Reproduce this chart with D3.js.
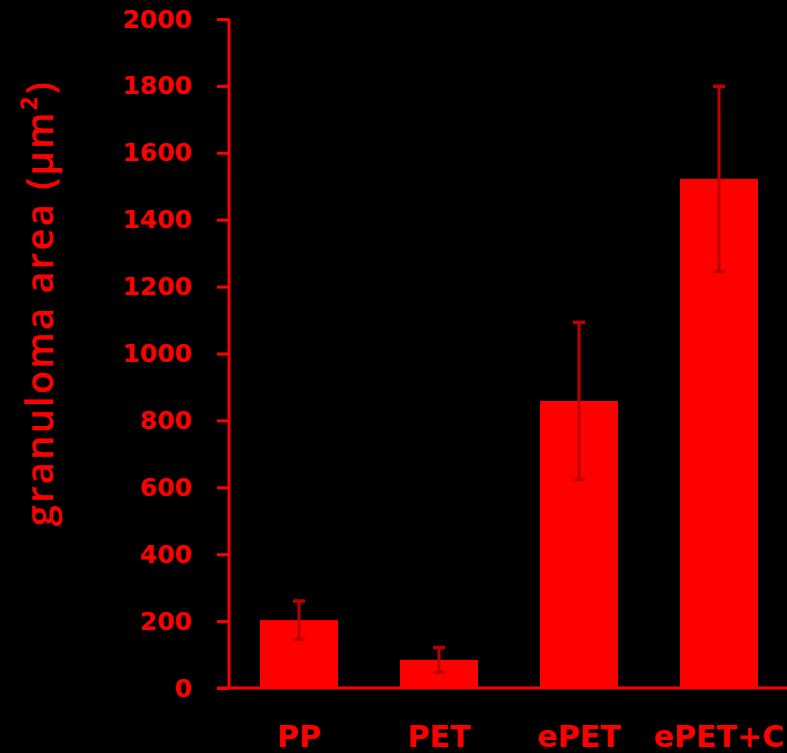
<!DOCTYPE html>
<html>
<head>
<meta charset="utf-8">
<script src="https://d3js.org/d3.v7.min.js"></script>
<style>
  html, body { margin: 0; padding: 0; background: #000; }
  svg { display: block; }
</style>
</head>
<body>
<svg width="787" height="753"></svg>
<script>
// values
const categories = ["PP", "PET", "ePET", "ePET+C"];
const means = [203, 84, 858, 1522];
const errors = [57, 37, 235, 277];
const yTicks = [0, 200, 400, 600, 800, 1000, 1200, 1400, 1600, 1800, 2000];

const red = "#ff0000";
const errRed = "#c00000";
const svg = d3.select("svg");

const x = d3.scaleBand().domain(categories).range([229, 789]).paddingInner(0.443).paddingOuter(0.2215);
const y = d3.scaleLinear().domain([0, 2000]).range([688, 19]);

// bars
svg.append("g").selectAll("rect").data(categories).enter().append("rect")
  .attr("x", d => x(d))
  .attr("y", (d, i) => y(means[i]))
  .attr("width", x.bandwidth())
  .attr("height", (d, i) => y(0) - y(means[i]))
  .attr("fill", red);

// error bars
const eb = svg.append("g").selectAll("g").data(categories).enter().append("g")
  .attr("transform", d => "translate(" + (x(d) + x.bandwidth() / 2) + ",0)");
eb.append("line")
  .attr("y1", (d, i) => y(means[i] + errors[i]))
  .attr("y2", (d, i) => y(means[i] - errors[i]))
  .attr("stroke", errRed).attr("stroke-width", 3);
eb.append("line")
  .attr("x1", -6).attr("x2", 6)
  .attr("y1", (d, i) => y(means[i] + errors[i]))
  .attr("y2", (d, i) => y(means[i] + errors[i]))
  .attr("stroke", errRed).attr("stroke-width", 3.5);
eb.append("line")
  .attr("x1", -6).attr("x2", 6)
  .attr("y1", (d, i) => y(means[i] - errors[i]))
  .attr("y2", (d, i) => y(means[i] - errors[i]))
  .attr("stroke", errRed).attr("stroke-width", 3.5);

// y axis
const yAxis = svg.append("g").attr("transform", "translate(229,0)")
  .call(d3.axisLeft(y).tickValues(yTicks).tickSize(12).tickPadding(25).tickFormat(d3.format("d")));
yAxis.select(".domain").attr("stroke", red).attr("stroke-width", 3).attr("d", "M0," + y(2000) + "V" + y(0));
yAxis.selectAll(".tick line").attr("stroke", red).attr("stroke-width", 3);
yAxis.selectAll(".tick text")
  .attr("fill", red)
  .style("font-family", "'DejaVu Sans', sans-serif")
  .style("font-weight", "bold")
  .style("font-size", "25px");

// x axis line
svg.append("line")
  .attr("x1", 217).attr("x2", 787)
  .attr("y1", y(0)).attr("y2", y(0))
  .attr("stroke", red).attr("stroke-width", 3);

// x labels
svg.append("g").selectAll("text").data(categories).enter().append("text")
  .attr("x", d => x(d) + x.bandwidth() / 2)
  .attr("y", 747)
  .attr("text-anchor", "middle")
  .attr("fill", red)
  .style("font-family", "'DejaVu Sans', sans-serif")
  .style("font-weight", "bold")
  .style("font-size", "30px")
  .text(d => d);

// y label
svg.append("text")
  .attr("transform", "translate(53,303) rotate(-90)")
  .attr("text-anchor", "middle")
  .attr("fill", red)
  .style("font-family", "'Open Sans', sans-serif")
  .style("font-weight", "600")
  .style("font-size", "38px")
  .style("letter-spacing", "2.3px")
  .text("granuloma area (µm²)");
</script>
</body>
</html>
